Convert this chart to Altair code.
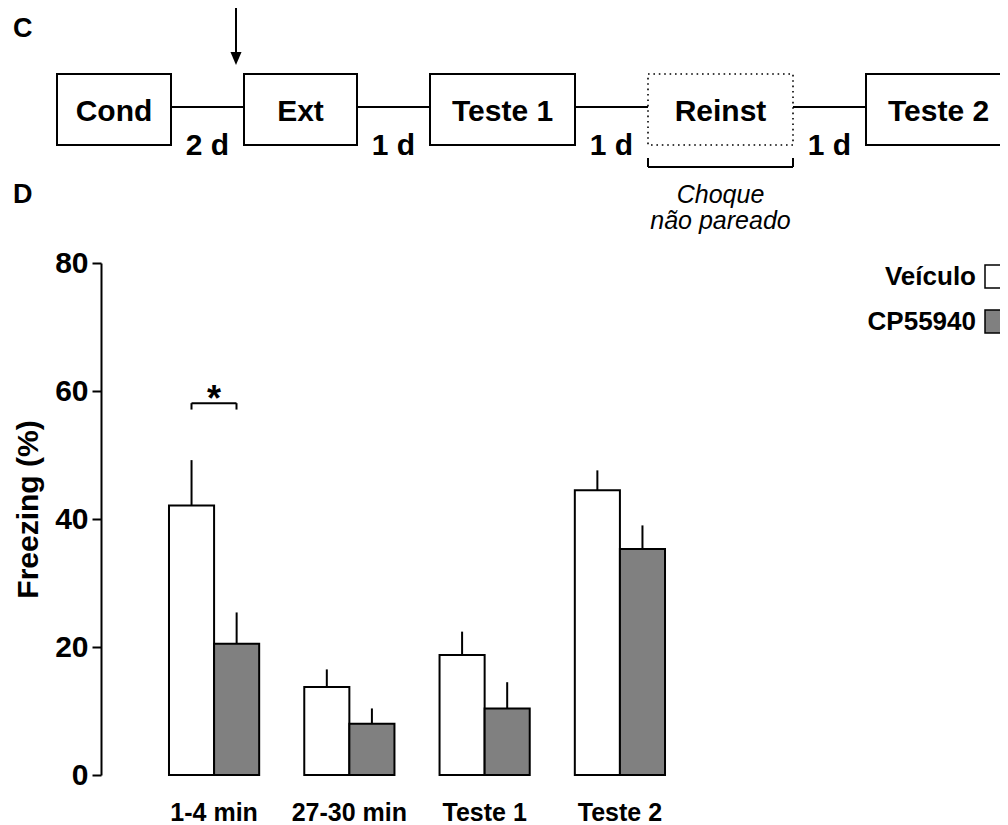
import altair as alt
import pandas as pd

FONT = "Liberation Sans"

# ---------------- data ----------------
groups = ["1-4 min", "27-30 min", "Teste 1", "Teste 2"]
series = ["Veículo", "CP55940"]
veiculo_mean = [42.1, 13.75, 18.75, 44.5]
veiculo_sem = [7.1, 2.75, 3.65, 3.1]
cp_mean = [20.5, 8.0, 10.4, 35.3]
cp_sem = [4.9, 2.4, 4.1, 3.7]
y_ticks = [0, 20, 40, 60, 80]
bar_colors = ["white", "#808080"]

stages = ["Cond", "Ext", "Teste 1", "Reinst", "Teste 2"]
stage_dotted = [False, False, False, True, False]
intervals = ["2 d", "1 d", "1 d", "1 d"]
reinst_note = ["Choque", "não pareado"]
sig_label = "*"

# ---------------- layout (pixels) ----------------
PLOT_LEFT, PLOT_TOP = 101, 263
W, H = 632, 512
stage_widths = [114, 113, 145, 145, 145]
STAGE_START, STAGE_GAP = 57, 73
BOX_TOP, BOX_BOT, LINK_Y = 74, 145, 107

XPX = alt.Scale(domain=[PLOT_LEFT, PLOT_LEFT + W], nice=False, zero=False)
YPX = alt.Scale(domain=[PLOT_TOP, PLOT_TOP + H], reverse=True, nice=False, zero=False)
YVAL = alt.Scale(domain=[0, 80], nice=False, zero=True)


def px(ch, field):
    if ch == "x":
        return alt.X(f"{field}:Q", scale=XPX, axis=None)
    return alt.Y(f"{field}:Q", scale=YPX, axis=None)


# bar table
rows = []
for i, g in enumerate(groups):
    rows.append({"group": g, "series": series[0], "value": veiculo_mean[i],
                 "upper": veiculo_mean[i] + veiculo_sem[i]})
    rows.append({"group": g, "series": series[1], "value": cp_mean[i],
                 "upper": cp_mean[i] + cp_sem[i]})
bar_df = pd.DataFrame(rows)

band = alt.Scale(paddingInner=0.3333, paddingOuter=0.5026)

x_axis = alt.Axis(title=None, labelAngle=0, labelFont=FONT, labelFontSize=25,
                  labelFontWeight="bold", labelColor="black", labelPadding=25,
                  domain=False, ticks=False, tickSize=0, labelOverlap=False)
y_axis = alt.Axis(values=y_ticks, grid=False, labelFont=FONT, labelFontSize=30,
                  labelFontWeight="bold", labelColor="black", labelPadding=4,
                  tickSize=9, tickWidth=2, tickColor="black", domainColor="black",
                  domainWidth=2, title="Freezing (%)", titleFont=FONT,
                  titleFontSize=30, titleFontWeight="bold", titleColor="black",
                  titleAngle=270, titleX=-64, titleY=246, titleAlign="center",
                  titleBaseline="alphabetic")

bars = alt.Chart(bar_df).mark_bar(stroke="black", strokeWidth=2).encode(
    x=alt.X("group:N", sort=groups, scale=band, axis=x_axis),
    xOffset=alt.XOffset("series:N", sort=series),
    y=alt.Y("value:Q", scale=YVAL, axis=y_axis),
    color=alt.Color("series:N", scale=alt.Scale(domain=series, range=bar_colors), legend=None),
)

whiskers = alt.Chart(bar_df).mark_rule(color="black", strokeWidth=2).encode(
    x=alt.X("group:N", sort=groups, scale=band, axis=None),
    xOffset=alt.XOffset("series:N", sort=series),
    y=alt.Y("value:Q", scale=YVAL, axis=None),
    y2="upper:Q",
)

# ---------------- significance ----------------
g0_white = PLOT_LEFT + 68 + 22.5
g0_grey = g0_white + 45
sig_line = pd.DataFrame([
    {"x": g0_white, "x2": g0_grey, "y": 58.1, "y2": 58.1},
    {"x": g0_white, "x2": g0_white, "y": 58.1, "y2": 57.1},
    {"x": g0_grey, "x2": g0_grey, "y": 58.1, "y2": 57.1},
])
sig_rules = alt.Chart(sig_line).mark_rule(color="black", strokeWidth=2).encode(
    x=px("x", "x"), x2="x2:Q",
    y=alt.Y("y:Q", scale=YVAL, axis=None), y2="y2:Q")
sig_text = alt.Chart(pd.DataFrame([{"x": (g0_white + g0_grey) / 2, "y": 56.9, "t": sig_label}])).mark_text(
    font=FONT, fontSize=36, fontWeight="bold", align="center", baseline="alphabetic", color="black"
).encode(x=px("x", "x"), y=alt.Y("y:Q", scale=YVAL, axis=None), text="t:N")

# ---------------- legend ----------------
leg_df = pd.DataFrame({
    "label": series,
    "color": bar_colors,
    "x": [985, 985], "x2": [1012, 1012],
    "y": [265, 310], "y2": [288, 333],
    "tx": [976, 976], "ty": [285, 330],
})
leg_rect = alt.Chart(leg_df).mark_rect(stroke="black", strokeWidth=1.5).encode(
    x=px("x", "x"), x2="x2:Q", y=px("y", "y"), y2="y2:Q",
    color=alt.Color("color:N", scale=None))
leg_text = alt.Chart(leg_df).mark_text(
    font=FONT, fontSize=26, fontWeight="bold", align="right", baseline="alphabetic", color="black"
).encode(x=px("x", "tx"), y=px("y", "ty"), text="label:N")

# ---------------- protocol diagram ----------------
box_rows = []
x = STAGE_START
for name, w, dotted in zip(stages, stage_widths, stage_dotted):
    box_rows.append({"stage": name, "x": x, "x2": x + w, "cx": x + w / 2,
                     "y": BOX_TOP, "y2": BOX_BOT, "ty": 121, "dotted": dotted})
    x += w + STAGE_GAP
box_df = pd.DataFrame(box_rows)

link_rows = []
for i, lab in enumerate(intervals):
    a = box_rows[i]["x2"]
    b = box_rows[i + 1]["x"]
    link_rows.append({"x": a, "x2": b, "y": LINK_Y, "cx": (a + b) / 2, "ty": 155, "label": lab})
link_df = pd.DataFrame(link_rows)

solid_boxes = alt.Chart(box_df[~box_df["dotted"]]).mark_rect(
    fill="white", stroke="black", strokeWidth=2).encode(
    x=px("x", "x"), x2="x2:Q", y=px("y", "y"), y2="y2:Q")
dotted_boxes = alt.Chart(box_df[box_df["dotted"]]).mark_rect(
    fill="white", stroke="black", strokeWidth=1.6, strokeDash=[1.6, 3.8]).encode(
    x=px("x", "x"), x2="x2:Q", y=px("y", "y"), y2="y2:Q")
box_text = alt.Chart(box_df).mark_text(
    font=FONT, fontSize=30, fontWeight="bold", align="center", baseline="alphabetic", color="black"
).encode(x=px("x", "cx"), y=px("y", "ty"), text="stage:N")

links = alt.Chart(link_df).mark_rule(color="black", strokeWidth=2).encode(
    x=px("x", "x"), x2="x2:Q", y=px("y", "y"))
link_text = alt.Chart(link_df).mark_text(
    font=FONT, fontSize=30, fontWeight="bold", align="center", baseline="alphabetic", color="black"
).encode(x=px("x", "cx"), y=px("y", "ty"), text="label:N")

# arrow over the start of Ext (drug injection)
ext = box_rows[1]
arrow_x = ext["x"] - 8
arrow_line = alt.Chart(pd.DataFrame([{"x": arrow_x, "y": 8, "y2": 54}])).mark_rule(
    color="black", strokeWidth=2).encode(x=px("x", "x"), y=px("y", "y"), y2="y2:Q")
arrow_head = alt.Chart(pd.DataFrame([{"x": arrow_x, "y": 58.5}])).mark_point(
    shape="M-0.85,-1L0.85,-1L0,1Z", size=169, filled=True, color="black", opacity=1,
    strokeWidth=0).encode(x=px("x", "x"), y=px("y", "y"))

# bracket and note under Reinst
rein = box_rows[3]
br_df = pd.DataFrame([
    {"x": rein["x"], "x2": rein["x2"], "y": 167, "y2": 167},
    {"x": rein["x"], "x2": rein["x"], "y": 158, "y2": 167},
    {"x": rein["x2"], "x2": rein["x2"], "y": 158, "y2": 167},
])
bracket = alt.Chart(br_df).mark_rule(color="black", strokeWidth=2).encode(
    x=px("x", "x"), x2="x2:Q", y=px("y", "y"), y2="y2:Q")
note_df = pd.DataFrame({"t": reinst_note, "x": [rein["cx"]] * 2, "y": [203, 229]})
note = alt.Chart(note_df).mark_text(
    font=FONT, fontSize=25, fontStyle="italic", align="center", baseline="alphabetic", color="black"
).encode(x=px("x", "x"), y=px("y", "y"), text="t:N")

# panel letters
letters = alt.Chart(pd.DataFrame({"t": ["C", "D"], "x": [13, 13], "y": [37, 203]})).mark_text(
    font=FONT, fontSize=27, fontWeight="bold", align="left", baseline="alphabetic", color="black"
).encode(x=px("x", "x"), y=px("y", "y"), text="t:N")

chart = alt.layer(
    whiskers, bars, sig_rules, sig_text, leg_rect, leg_text,
    links, solid_boxes, dotted_boxes, box_text, link_text,
    arrow_line, arrow_head, bracket, note, letters,
).resolve_scale(x="independent", y="independent", color="independent").properties(
    width=W, height=H,
    autosize=alt.AutoSizeParams(type="none"),
    padding={"left": 93, "top": 255, "right": 267, "bottom": 50},
).configure_view(stroke=None)

chart.save("out.html", embed_options={"renderer": "svg", "actions": False})
